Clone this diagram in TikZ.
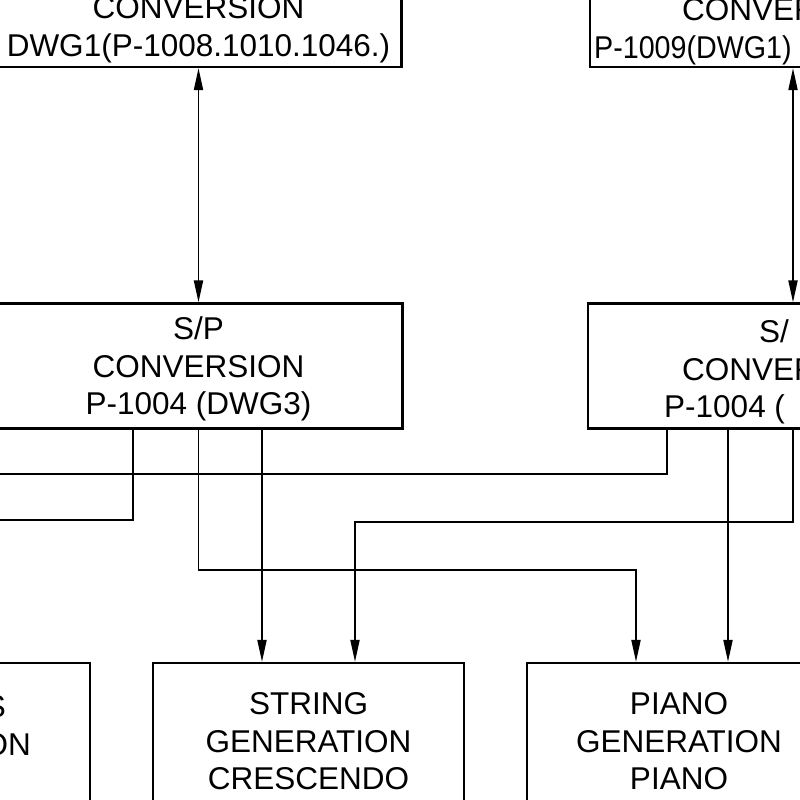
\documentclass[tikz,border=0pt]{standalone}
\usepackage{fontspec}
\setmainfont{Liberation Sans}
\usetikzlibrary{arrows.meta}
\begin{document}
\begin{tikzpicture}[x=1pt,y=-1pt,
    box/.style={draw, line width=2.2pt, rectangle, inner sep=0pt, align=center,
      text height=97.5pt, text depth=-4.5pt, font=\fontsize{31.5}{37.5}\selectfont},
    frag/.style={inner sep=0pt, font=\fontsize{31.5}{37.5}\selectfont},
    wire/.style={line width=1.9pt},
    arr/.style={wire, -{Triangle[length=22pt,width=9pt]}},
    dbl/.style={wire, {Triangle[length=22pt,width=9pt]}-{Triangle[length=22pt,width=9pt]}}]
  \useasboundingbox (0,0) rectangle (800,800);
  \clip (0,0) rectangle (800,800);
  \node (conv1) at (198.5,26.25) [box, text height=60pt, minimum width=406pt, minimum height=81.5pt] {CONVERSION\\DWG1(P-1008.1010.1046.)};
  \node (conv2) at (793,26.25) [box, text height=60pt, minimum width=406pt, minimum height=81.5pt] {};
  \node (conv2a) at (682,21) [frag, anchor=base west] {CONVER};
  \node (conv2b) at (594,58.5) [frag, anchor=base west] {\addfontfeatures{FakeStretch=0.91}P-1009(DWG1)};
  \node (sp1) at (198.5,366) [box, minimum width=408pt, minimum height=125pt] {S/P\\CONVERSION\\P-1004 (DWG3)};
  \node (sp2) at (793,366) [box, minimum width=410pt, minimum height=125pt] {};
  \node (sp2a) at (759,342) [frag, anchor=base west] {S/};
  \node (sp2b) at (682,380) [frag, anchor=base west] {CONVER};
  \node (sp2c) at (664,417) [frag, anchor=base west] {P-1004 (};
  \node (gen0) at (-65.5,741) [box, minimum width=311pt, minimum height=156pt] {};
  \node (gen0a) at (6,717) [frag, anchor=base east] {S};
  \node (gen0b) at (31,755) [frag, anchor=base east] {ON};
  \node (str) at (308.5,741) [box, minimum width=311pt, minimum height=156pt] {STRING\\GENERATION\\CRESCENDO};
  \node (piano) at (679,741) [box, minimum width=304pt, minimum height=156pt] {PIANO\\GENERATION\\PIANO};
  \coordinate (ws) at (-20,520);
  \coordinate (wn) at (-20,474);
  \draw[dbl] (conv1.south) -- (sp1.north);
  \draw[dbl] (conv2.south) -- (sp2.north);
  \draw[wire] ([xshift=-65.5pt]sp1.south) |- (ws);
  \draw[wire] ([xshift=-126pt]sp2.south) |- (wn);
  \draw[arr] (sp1.south) -- ++(0,140) -| ([xshift=-43pt]piano.north);
  \draw[arr] ([xshift=63.5pt]sp1.south) -- ([xshift=-46.5pt]str.north);
  \draw[arr] ([xshift=-65pt]sp2.south) -- ([xshift=49pt]piano.north);
  \draw[arr] (sp2.south) -- ++(0,92) -| ([xshift=46.5pt]str.north);
\end{tikzpicture}
\end{document}
